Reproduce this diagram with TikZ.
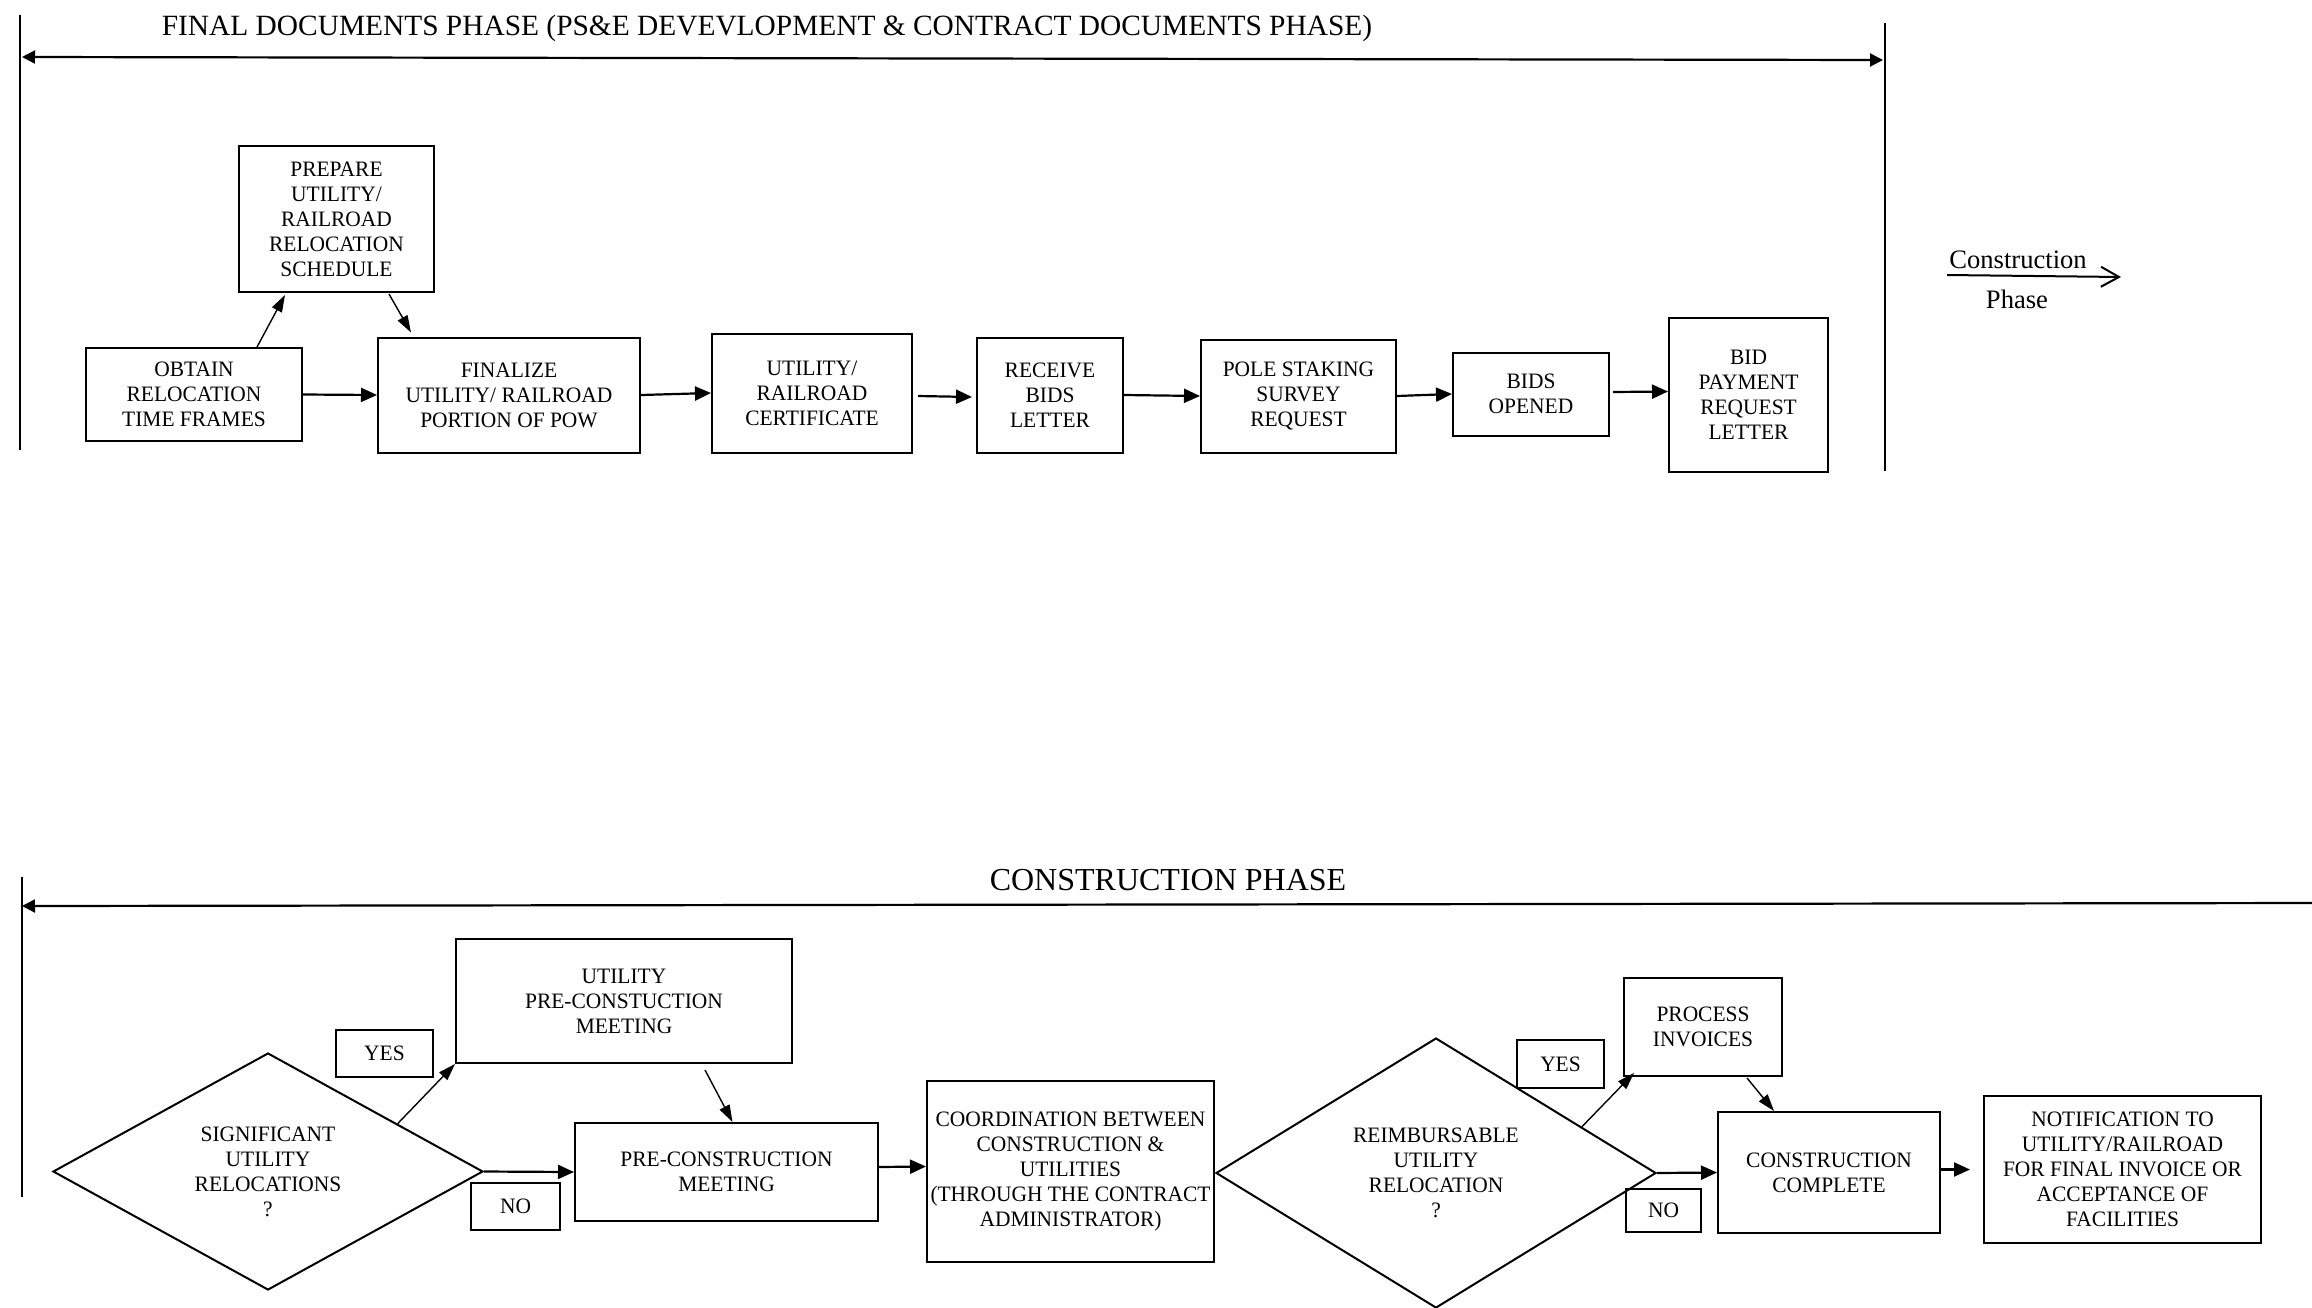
\documentclass[tikz,border=0pt]{standalone}
\usepackage{fontspec}
\setmainfont{Liberation Serif}
\newfontfamily\boxfont{Liberation Serif}[FakeStretch=0.975]
\usetikzlibrary{arrows.meta,shapes.geometric,calc}

\tikzset{
  box/.style 2 args={draw, line width=1pt, inner sep=0pt, align=center,
    minimum width=#1*0.5pt, minimum height=#2*0.5pt,
    font=\boxfont\fontsize{11}{12.5}\selectfont},
  tag/.style 2 args={box={#1}{#2}},
  decision/.style 2 args={diamond, draw, line width=1pt, inner sep=0pt, align=center,
    minimum width=#1*0.5pt, minimum height=#2*0.5pt,
    font=\boxfont\fontsize{11}{12.5}\selectfont},
  flow/.style={line width=1.1pt, -{Triangle[length=8pt,width=7pt]}},
  slant/.style={line width=0.7pt, -{Triangle[length=8.5pt,width=5.5pt]}},
  phaseline/.style={line width=0.9pt},
  phasehead/.style={line width=1.1pt},
  side/.style={font=\fontsize{13.3}{15}\selectfont},
}

\begin{document}
\begin{tikzpicture}[x=0.5pt,y=-0.5pt]
\useasboundingbox (0,0) rectangle (2312,1307);

% ---------------- final documents phase ----------------
\node[font=\fontsize{14.7}{17}\selectfont] (t1) at (767,28) {FINAL DOCUMENTS PHASE (PS\&E DEVEVLOPMENT \& CONTRACT DOCUMENTS PHASE)};
\coordinate (l1a) at (20,15);   \coordinate (l1b) at (20,450);
\coordinate (r1a) at (1885,23); \coordinate (r1b) at (1885,471);
\coordinate (p1a) at (22,57);   \coordinate (p1b) at (1883,60);
\draw[phaseline] (l1a) -- (l1b);
\draw[phaseline] (r1a) -- (r1b);
\draw[phasehead, {Triangle[length=6.5pt,width=6.5pt]}-{Triangle[length=6.5pt,width=6.5pt]}] (p1a) -- (p1b);

\node[box={216}{93}]  (obtain)   at (194,394.5)  {OBTAIN\\RELOCATION\\TIME FRAMES};
\node[box={195}{146}] (prepare)  at (336.5,219)  {PREPARE\\UTILITY/\\RAILROAD\\RELOCATION\\SCHEDULE};
\node[box={262}{115}] (finalize) at (509,395)  {FINALIZE\\UTILITY/ RAILROAD\\PORTION OF POW};
\node[box={200}{119}] (cert)     at (812,393)  {UTILITY/\\RAILROAD\\CERTIFICATE};
\node[box={146}{115}] (receive)  at (1050,395) {RECEIVE\\BIDS\\LETTER};
\node[box={195}{113}] (pole)     at (1298.5,396) {POLE STAKING\\SURVEY\\REQUEST};
\node[box={156}{83}]  (bids)     at (1531,394) {BIDS\\OPENED};
\node[box={159}{154}] (bidpay)   at (1748.5,394.5) {BID\\PAYMENT\\REQUEST\\LETTER};

\draw[flow] (obtain.east) -- (finalize.west);
\draw[flow] (finalize.east) -- (cert.west);
\draw[flow] ($(cert.east)+(5,3)$) -- ($(receive.west)+(-4,2)$);
\draw[flow] (receive.east) -- (pole.west);
\draw[flow] (pole.east) -- (bids.west);
\draw[flow] ($(bids.east)+(3,-2)$) -- ($(bidpay.west)+(0,-3)$);
\draw[slant] ($(obtain.north)+(63,0)$) -- ($(prepare.south)+(-51.5,2)$);
\draw[slant] ($(prepare.south)+(52.5,1)$) -- ($(finalize.north)+(-98,-4)$);

% hand-over to construction
\node[side] (cons)  at (2018,260) {Construction};
\node[side] (phase) at (2017,299) {Phase};
\coordinate (ca) at (1947,275); \coordinate (cb) at (2121,277);
\draw[line width=1pt, -{Straight Barb[length=9pt,width=10pt]}] (ca) -- (cb);

% ---------------- construction phase ----------------
\node[font=\fontsize{16}{18}\selectfont] (t2) at (1168,880) {CONSTRUCTION PHASE};
\coordinate (l2a) at (22,877); \coordinate (l2b) at (22,1197);
\coordinate (p2a) at (2320,903); \coordinate (p2b) at (22,906);
\draw[phaseline] (l2a) -- (l2b);
\draw[phasehead, -{Triangle[length=6.5pt,width=6.5pt]}] (p2a) -- (p2b);

\node[decision={430}{237}] (sig) at (268,1171.5) {SIGNIFICANT\\UTILITY\\RELOCATIONS\\?};
\node[tag={97}{47}] (yes1) at (384.5,1053.5) {YES};
\node[tag={89}{47}] (no1)  at (515.5,1206.5) {NO};
\node[box={336}{124}] (upre)   at (624,1001)    {UTILITY\\PRE-CONSTUCTION\\MEETING};
\node[box={303}{98}]  (precon) at (726.5,1172)  {PRE-CONSTRUCTION\\MEETING};
\node[box={287}{181}] (coord)  at (1070.5,1171.5) {COORDINATION BETWEEN\\CONSTRUCTION \&\\UTILITIES\\(THROUGH THE CONTRACT\\ADMINISTRATOR)};
\node[decision={440}{270}] (reimb) at (1436,1173) {REIMBURSABLE\\UTILITY\\RELOCATION\\?};
\node[tag={87}{48}] (yes2) at (1560.5,1064) {YES};
\node[tag={75}{43}] (no2)  at (1663.5,1210.5) {NO};
\node[box={158}{98}]  (proc)     at (1703,1027)   {PROCESS\\INVOICES};
\node[box={222}{121}] (complete) at (1829,1172.5) {CONSTRUCTION\\COMPLETE};
\node[box={277}{147}] (notif)    at (2122.5,1169.5) {NOTIFICATION TO\\UTILITY/RAILROAD\\FOR FINAL INVOICE OR\\ACCEPTANCE OF\\FACILITIES};

\draw[slant] ($(sig.north)!0.6!(sig.east)$) -- (upre.south west);
\draw[flow] (sig.east) -- (precon.west);
\draw[slant] ($(upre.south)+(81,6)$) -- ($(precon.north)+(6,0)$);
\draw[flow] ([yshift=2.5pt]precon.east) -- ([yshift=2.5pt]coord.west);
\draw[slant] ($(reimb.north)!0.66!(reimb.east)$) -- ($(proc.south west)+(11,-4)$);
\draw[flow] (reimb.east) -- (complete.west);
\draw[slant] ($(proc.south)+(44,1)$) -- ($(complete.north)+(-55,0)$);
\draw[flow] (complete.east |- notif.west) -- ($(notif.west)+(-13,0)$);
\end{tikzpicture}
\end{document}
